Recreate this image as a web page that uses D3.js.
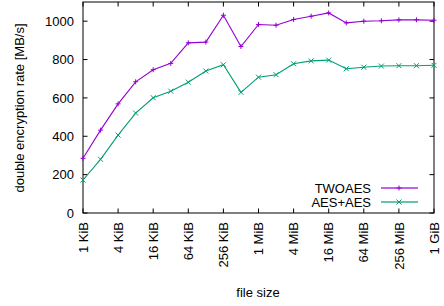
<!DOCTYPE html>
<html><head><meta charset="utf-8">
<script src="https://cdn.jsdelivr.net/npm/d3@7"></script>
<style>body{margin:0;background:#fff}svg{display:block}text{font-family:"Liberation Sans",Arial,sans-serif;font-size:13px;fill:#000}</style>
</head><body>
<script>
const sizes = ["1 KiB","2 KiB","4 KiB","8 KiB","16 KiB","32 KiB","64 KiB","128 KiB","256 KiB","512 KiB","1 MiB","2 MiB","4 MiB","8 MiB","16 MiB","32 MiB","64 MiB","128 MiB","256 MiB","512 MiB","1 GiB"];
const tickLabels = ["1 KiB","4 KiB","16 KiB","64 KiB","256 KiB","1 MiB","4 MiB","16 MiB","64 MiB","256 MiB","1 GiB"];
const twoaes = [285,432,569,684,747,780,887,891,1031,868,983,979,1009,1026,1043,991,1000,1002,1007,1007,1005];
const aesaes = [172,280,406,521,601,635,682,740,773,629,708,721,778,793,797,752,760,766,768,768,770];
const yTicks = [0,200,400,600,800,1000];
const seriesNames = ["TWOAES","AES+AES"];
const colors = ["#9400d3","#009e73"];

const W=444,H=306, L=83,R=434,T=2,B=213;
const svg=d3.select("body").append("svg").attr("width",W).attr("height",H);
const x=d3.scalePoint().domain(sizes).range([L,R]);
const y=d3.scaleLinear().domain([0,1100]).range([B,T]);
const tl=4.5;

// y ticks
yTicks.forEach(v=>{
  svg.append("line").attr("x1",L).attr("x2",L+tl).attr("y1",y(v)).attr("y2",y(v)).attr("stroke","#000");
  svg.append("line").attr("x1",R).attr("x2",R-tl).attr("y1",y(v)).attr("y2",y(v)).attr("stroke","#000");
  svg.append("text").attr("x",74).attr("y",y(v)).attr("dy","0.36em").attr("text-anchor","end").text(v);
});
// x ticks
tickLabels.forEach(s=>{
  const px=x(s);
  svg.append("line").attr("x1",px).attr("x2",px).attr("y1",B).attr("y2",B-tl).attr("stroke","#000");
  svg.append("line").attr("x1",px).attr("x2",px).attr("y1",T).attr("y2",T+tl).attr("stroke","#000");
  svg.append("text").attr("transform",`translate(${px},222) rotate(-90)`).attr("text-anchor","end").attr("dy","0.36em").text(s);
});
// frame
svg.append("rect").attr("x",L).attr("y",T).attr("width",R-L).attr("height",B-T).attr("fill","none").attr("stroke","#000").attr("stroke-width",1);

function marker(g,kind,cx,cy,c){
  const s=2.5;
  if(kind===0){
    g.append("path").attr("d",`M${cx-s},${cy}H${cx+s}M${cx},${cy-s}V${cy+s}`).attr("stroke",c).attr("stroke-width",1);
  } else {
    g.append("path").attr("d",`M${cx-s},${cy-s}L${cx+s},${cy+s}M${cx-s},${cy+s}L${cx+s},${cy-s}`).attr("stroke",c).attr("stroke-width",1);
  }
}
const line=d3.line().x((d,i)=>x(sizes[i])).y(d=>y(d));
[twoaes,aesaes].forEach((data,k)=>{
  const g=svg.append("g");
  g.append("path").attr("d",line(data)).attr("fill","none").attr("stroke",colors[k]).attr("stroke-width",1.1);
  data.forEach((d,i)=>marker(g,k,x(sizes[i]),y(d),colors[k]));
});
// legend
seriesNames.forEach((n,k)=>{
  const ly=188+k*14;
  svg.append("text").attr("x",371).attr("y",ly).attr("dy","0.36em").attr("text-anchor","end").text(n);
  svg.append("line").attr("x1",381).attr("x2",418).attr("y1",ly).attr("y2",ly).attr("stroke",colors[k]).attr("stroke-width",1.5).attr("opacity",0.8);
  marker(svg,k,399,ly,colors[k]);
});
// axis titles
svg.append("text").attr("transform",`translate(19,108) rotate(-90)`).attr("text-anchor","middle").attr("dy","0.36em").text("double encryption rate [MB/s]");
svg.append("text").attr("x",258).attr("y",297).attr("text-anchor","middle").text("file size");
</script>
</body></html>
